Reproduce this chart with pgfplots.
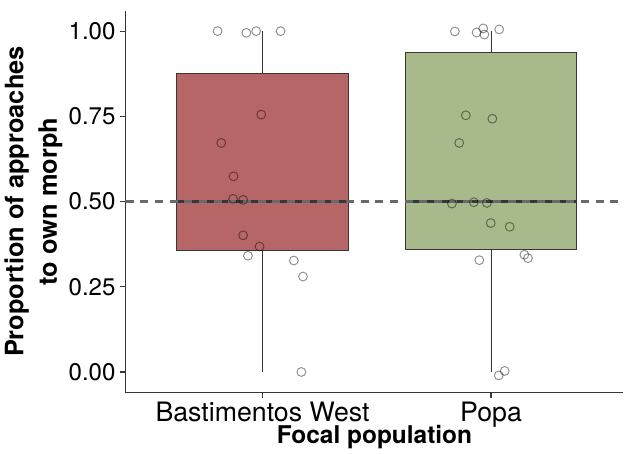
\documentclass[border=0pt]{standalone}
\usepackage{fontspec}
\setmainfont{TeX Gyre Heros}
\usepackage{pgfplots}
\pgfplotsset{compat=1.18}
\usepgfplotslibrary{statistics}
\definecolor{boxred}{RGB}{183,102,103}
\definecolor{boxgreen}{RGB}{168,185,139}
\definecolor{refgray}{RGB}{105,105,105}
\definecolor{edge}{RGB}{55,55,55}

\pgfplotstableread{
x y
0.803 1.000
0.929 0.995
0.972 1.000
1.079 1.000
0.994 0.755
0.819 0.672
0.873 0.574
0.871 0.508
0.915 0.505
0.915 0.401
0.987 0.368
0.936 0.341
1.137 0.327
1.177 0.280
1.170 0.000
}\bastimentos

\pgfplotstableread{
x y
1.842 0.999
1.937 0.996
1.966 1.008
1.971 0.990
2.036 1.005
1.890 0.753
2.006 0.743
1.861 0.672
1.829 0.494
1.925 0.498
1.982 0.496
1.999 0.437
2.082 0.426
1.949 0.328
2.146 0.344
2.162 0.334
2.060 0.003
2.034 -0.010
}\popa

\begin{document}
\begin{tikzpicture}
\begin{axis}[
  scale only axis,
  width=372.75pt, height=285.75pt,
  xmin=0.4, xmax=2.58,
  ymin=-0.06, ymax=1.06,
  axis x line*=bottom, axis y line*=left,
  axis line style={-, line width=0.8pt, edge},
  xtick={1,2}, xticklabels={Bastimentos West, Popa},
  ytick={0,0.25,0.5,0.75,1}, yticklabels={0.00,0.25,0.50,0.75,1.00},
  tick style={edge, line width=0.8pt},
  tick align=outside, major tick length=4pt,
  yticklabel style={font=\fontsize{18}{20}\selectfont},
  xticklabel style={font=\fontsize{20}{22}\selectfont},
  xlabel={Focal population},
  ylabel={Proportion of approaches\\[4pt]to own morph},
  xlabel style={font=\fontsize{18.3}{20}\selectfont\bfseries,
    at={(axis description cs:0.5,-0.118)}, anchor=center},
  ylabel style={font=\fontsize{19}{21}\selectfont\bfseries,
    align=center, at={(axis description cs:-0.185,0.5)}, anchor=center},
  boxplot/draw direction=y,
]
\addplot[boxplot prepared={draw position=1, median=0.5,
    lower quartile=0.356, upper quartile=0.875,
    lower whisker=0, upper whisker=1,
    box extend=0.75, whisker extend=0,
    every median/.style={line width=1.6pt}},
  draw=edge, fill=boxred, line width=0.7pt, solid]
  coordinates {};
\addplot[boxplot prepared={draw position=2, median=0.5,
    lower quartile=0.359, upper quartile=0.938,
    lower whisker=0, upper whisker=1,
    box extend=0.75, whisker extend=0,
    every median/.style={line width=1.6pt}},
  draw=edge, fill=boxgreen, line width=0.7pt, solid]
  coordinates {};
\addplot[only marks, mark=o, mark size=3.3pt,
  mark options={draw=black, draw opacity=0.45, line width=0.7pt}]
  table {\bastimentos};
\addplot[only marks, mark=o, mark size=3.3pt,
  mark options={draw=black, draw opacity=0.45, line width=0.7pt}]
  table {\popa};
\addplot[refgray, line width=1.6pt, dash pattern=on 6pt off 5pt]
  coordinates {(0.4,0.5) (2.58,0.5)};
\end{axis}
\path ([yshift=8pt]current axis.north);
\path ([xshift=-7pt]current axis.west);
\end{tikzpicture}
\end{document}
